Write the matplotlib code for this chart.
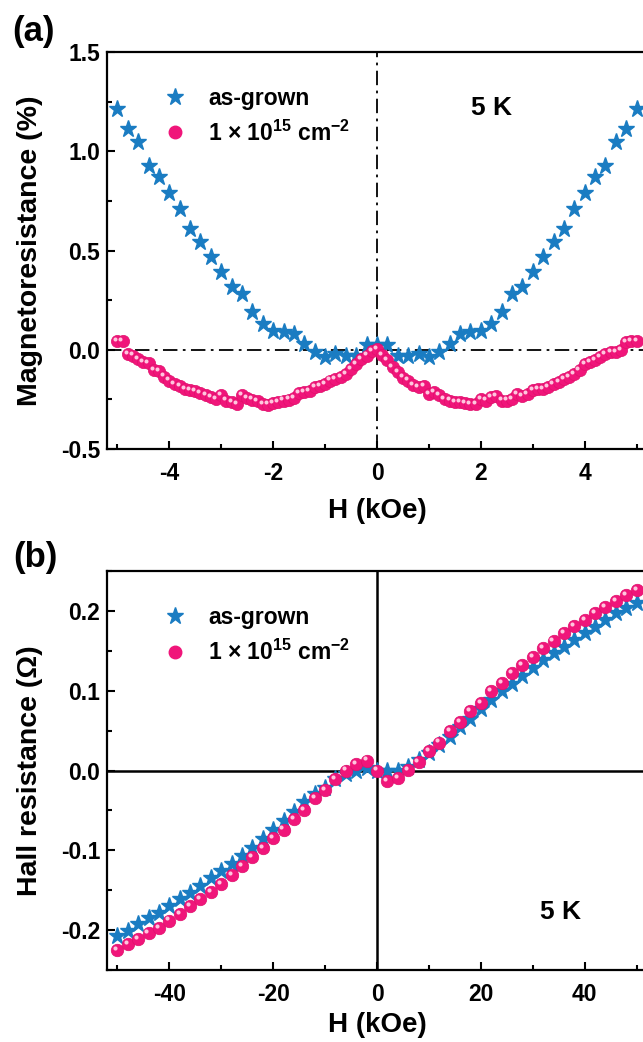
import numpy as np
import matplotlib
matplotlib.use("Agg")
import matplotlib.pyplot as plt
from matplotlib.ticker import MultipleLocator, FormatStrFormatter
from matplotlib.lines import Line2D
import matplotlib.transforms as mtransforms

# ---------------- data ----------------
# (a) magnetoresistance at 5 K
mr_h_grown = np.round(np.arange(-5.0, 5.0001, 0.2), 2)
mr_grown = [1.212, 1.111, 1.048, 0.927, 0.871, 0.792, 0.708, 0.610, 0.543, 0.467,
            0.392, 0.316, 0.282, 0.190, 0.131, 0.094, 0.089, 0.077, 0.027, -0.012,
            -0.037, -0.020, -0.034, -0.029, 0.022, 0.022, 0.022, -0.029, -0.029, -0.020,
            -0.037, -0.012, 0.027, 0.077, 0.089, 0.094, 0.131, 0.190, 0.282, 0.316,
            0.392, 0.467, 0.543, 0.610, 0.708, 0.792, 0.871, 0.927, 1.048, 1.111, 1.212]

mr_h_irr = np.round(np.arange(-5.0, 5.0001, 0.1), 2)
mr_irr = [0.044, 0.044, -0.020, -0.029, -0.045, -0.062, -0.067, -0.104, -0.108, -0.135,
          -0.155, -0.172, -0.185, -0.200, -0.205, -0.210, -0.217, -0.227, -0.239, -0.247,
          -0.226, -0.256, -0.264, -0.273, -0.226, -0.242, -0.251, -0.259, -0.273, -0.276,
          -0.268, -0.264, -0.256, -0.251, -0.242, -0.219, -0.214, -0.210, -0.189, -0.185,
          -0.172, -0.155, -0.146, -0.138, -0.121, -0.096, -0.071, -0.045, -0.029, -0.007,
          0.005,
          -0.025, -0.050, -0.085, -0.110, -0.140, -0.155, -0.180, -0.188, -0.185, -0.222,
          -0.215, -0.230, -0.247, -0.256, -0.264, -0.264, -0.270, -0.273, -0.273, -0.248,
          -0.256, -0.240, -0.231, -0.256, -0.256, -0.247, -0.222, -0.231, -0.222, -0.205,
          -0.197, -0.197, -0.189, -0.172, -0.163, -0.146, -0.138, -0.121, -0.104, -0.071,
          -0.062, -0.054, -0.037, -0.020, -0.012, -0.010, 0.000, 0.040, 0.045, 0.045]

# (b) Hall resistance at 5 K
hall_h = np.arange(-50, 51, 2)
hall_grown = [-0.208, -0.201, -0.1925, -0.185, -0.178, -0.170, -0.161, -0.153, -0.145, -0.135,
              -0.126, -0.1175, -0.107, -0.097, -0.086, -0.075, -0.063, -0.052, -0.040, -0.030,
              -0.022, -0.011, -0.005, -0.001, 0.003, 0.000,
              -0.001, 0.000, 0.005, 0.013, 0.022, 0.032, 0.0425, 0.054, 0.065, 0.077,
              0.088, 0.099, 0.109, 0.119, 0.129, 0.138, 0.147, 0.155, 0.163, 0.172,
              0.180, 0.188, 0.197, 0.204, 0.210]
hall_irr = [-0.225, -0.2175, -0.211, -0.204, -0.197, -0.188, -0.180, -0.170, -0.161, -0.152,
            -0.142, -0.131, -0.120, -0.109, -0.0975, -0.085, -0.074, -0.061, -0.049, -0.035,
            -0.024, -0.011, 0.000, 0.008, 0.0125, 0.000,
            -0.013, -0.009, 0.001, 0.011, 0.024, 0.035, 0.049, 0.061, 0.074, 0.085,
            0.099, 0.110, 0.122, 0.132, 0.1425, 0.153, 0.162, 0.172, 0.181, 0.189,
            0.197, 0.205, 0.212, 0.2196, 0.226]

label_grown = "as-grown"
label_irr = r"1 × 10$^{15}$ cm$^{-2}$"
temp_label = "5 K"

# ---------------- style ----------------
plt.rcParams["font.family"] = ["Liberation Sans", "DejaVu Sans"]
plt.rcParams["font.weight"] = "bold"
plt.rcParams["axes.unicode_minus"] = False
plt.rcParams["mathtext.fontset"] = "custom"
plt.rcParams["mathtext.rm"] = "Liberation Sans:bold"
plt.rcParams["mathtext.it"] = "Liberation Sans:bold"
plt.rcParams["mathtext.bf"] = "Liberation Sans:bold"
plt.rcParams["mathtext.default"] = "regular"

BLUE = "#1a7cc2"
PINK = "#f0157a"
HIGHLIGHT = "#ffc6de"
TICK_FS = 16.5
LAB_FS = 20
YLAB_FS = 20.5
LEG_FS = 16.5

W, H = 643, 1042
fig = plt.figure(figsize=(W / 100, H / 100), dpi=100)


def px_axes(left, top, right, bottom):
    return fig.add_axes([left / W, 1 - bottom / H, (right - left) / W, (bottom - top) / H])


axA = px_axes(107, 52, 647, 449)
axB = px_axes(107, 571, 647, 970)


def style(ax, xmaj, xmin, ymaj, ymin):
    for s in ax.spines.values():
        s.set_linewidth(1.6)
    ax.xaxis.set_major_locator(MultipleLocator(xmaj))
    ax.xaxis.set_minor_locator(MultipleLocator(xmin))
    ax.yaxis.set_major_locator(MultipleLocator(ymaj))
    ax.yaxis.set_minor_locator(MultipleLocator(ymin))
    ax.tick_params(which="both", direction="in", width=1.5, labelsize=TICK_FS)
    ax.tick_params(which="major", length=6)
    ax.tick_params(which="minor", length=3.5)
    ax.tick_params(axis="x", pad=9.5)
    ax.tick_params(axis="y", pad=5)
    ax.yaxis.set_major_formatter(FormatStrFormatter("%.1f"))


def balls(ax, x, y, ms, z=4):
    ax.plot(x, y, "o", ms=ms, color=PINK, mec="#e0106c", mew=0.5, zorder=z)
    tr = mtransforms.offset_copy(ax.transData, fig=fig, x=-1.5, y=1.5, units="points")
    ax.plot(x, y, "o", ms=ms * 0.33, color=HIGHLIGHT, mec="none", zorder=z + 0.1, transform=tr)


# ---------- panel (a) ----------
ax = axA
ax.axhline(0, color="black", lw=1.3, ls=(0, (8, 3, 1.5, 3)), zorder=1)
ax.axvline(0, color="black", lw=1.3, ls=(0, (8, 3, 1.5, 3)), zorder=1)
ax.plot(mr_h_grown, mr_grown, "*", ms=12.5, color=BLUE, mec=BLUE, zorder=3)
balls(ax, mr_h_irr, mr_irr, 8.8)
ax.set_xlim(-5.2, 5.2)
ax.set_ylim(-0.5, 1.5)
style(ax, 2, 1, 0.5, 0.25)
ax.set_xlabel("H (kOe)", fontsize=LAB_FS, fontweight="bold", labelpad=9)
ax.set_ylabel("Magnetoresistance (%)", fontsize=YLAB_FS, fontweight="bold")
ax.yaxis.set_label_coords(-0.118, 0.5)
ax.text(0.712, 0.858, temp_label, transform=ax.transAxes, fontsize=19,
        fontweight="bold", ha="center", va="center")

# ---------- panel (b) ----------
ax = axB
ax.axhline(0, color="black", lw=1.8, zorder=1)
ax.axvline(0, color="black", lw=1.8, zorder=1)
ax.plot(hall_h, hall_grown, "*", ms=12.5, color=BLUE, mec=BLUE, zorder=3)
balls(ax, hall_h, hall_irr, 9.0)
ax.set_xlim(-52, 52)
ax.set_ylim(-0.25, 0.25)
style(ax, 20, 10, 0.1, 0.05)
ax.set_xlabel("H (kOe)", fontsize=LAB_FS, fontweight="bold", labelpad=4)
ax.set_ylabel("Hall resistance (Ω)", fontsize=YLAB_FS, fontweight="bold")
ax.yaxis.set_label_coords(-0.118, 0.5)
ax.text(0.84, 0.145, temp_label, transform=ax.transAxes, fontsize=19,
        fontweight="bold", ha="center", va="center")

# ---------- legends ----------
for ax in (axA, axB):
    h1 = Line2D([], [], ls="none", marker="*", ms=12.5, color=BLUE)
    h2 = Line2D([], [], ls="none", marker="o", ms=9, color=PINK)
    ax.legend([h1, h2], [label_grown, label_irr], loc="upper left",
              bbox_to_anchor=(0.077, 0.935), frameon=False, fontsize=LEG_FS,
              handlelength=1.5, handletextpad=0.69, labelspacing=0.45, borderaxespad=0)

fig.text(34 / W, 1 - 31 / H, "(a)", fontsize=25, fontweight="bold", ha="center", va="center")
fig.text(35 / W, 1 - 557 / H, "(b)", fontsize=25, fontweight="bold", ha="center", va="center")

fig.savefig("out.png", dpi=100)
